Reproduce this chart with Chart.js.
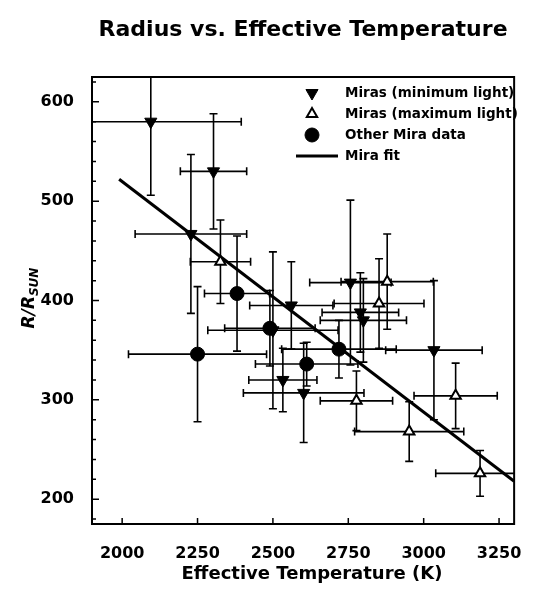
<!DOCTYPE html>
<html>
<head>
<meta charset="utf-8">
<script src="https://cdn.jsdelivr.net/npm/chart.js@4.4.1/dist/chart.umd.min.js"></script>
<style>
  html, body { margin: 0; padding: 0; background: #fff; }
  #wrap { width: 534px; height: 596px; }
</style>
</head>
<body>
<div id="wrap"><canvas id="chart"></canvas></div>
<script>
// Miras at minimum light (filled down triangles)
const minT    = [2095, 2303, 2228, 2561, 2500, 2533, 2602, 2757, 2790, 2800, 3034];
const minR    = [580, 530, 467, 395, 370, 320, 307, 418, 388, 380, 350];
const minTErr = [300, 110, 185, 138, 216, 113, 200, 135, 127, 143, 160];
const minRErr = [74, 58, 80, 44, 79, 32, 50, 83, 40, 42, 70];

// Miras at maximum light (open triangles)
const maxT    = [2326, 2852, 2879, 2777, 2952, 3106, 3187];
const maxR    = [439, 397, 419, 299, 268, 304, 226];
const maxTErr = [100, 149, 153, 120, 181, 138, 147];
const maxRErr = [42, 45, 48, 30, 30, 33, 23];

// other Mira data (filled circles)
const otherT    = [2250, 2381, 2490, 2612, 2719];
const otherR    = [346, 407, 372, 336, 351];
const otherTErr = [229, 108, 150, 170, 190];
const otherRErr = [68, 58, 38, 22, 29];

// linear fit
const fitT = [1990, 3300];
const fitR = [522, 218];

const xTicks = [2000, 2250, 2500, 2750, 3000, 3250];
const yTicks = [200, 300, 400, 500, 600];
const yMinorStep = 20;

const FONT = "'DejaVu Sans', sans-serif";

function points(ts, rs, te, re) {
    return ts.map((t, i) => ({ x: t, y: rs[i], xe: te ? te[i] : 0, ye: re ? re[i] : 0 }));
}

// error bars, frame, inner ticks, titles and legend
const decorations = {
    id: 'decorations',
    beforeDatasetsDraw(chart) {
        const { ctx, chartArea: a, scales: { x, y } } = chart;
        ctx.save();
        ctx.beginPath();
        ctx.rect(a.left, a.top, a.right - a.left, a.bottom - a.top);
        ctx.clip();
        ctx.strokeStyle = '#000';
        ctx.lineWidth = 1.6;
        const cap = 4;
        chart.data.datasets.forEach(ds => {
            if (!ds.errorBars) return;
            ds.data.forEach(p => {
                const px = x.getPixelForValue(p.x);
                const py = y.getPixelForValue(p.y);
                const x0 = x.getPixelForValue(p.x - p.xe);
                const x1 = x.getPixelForValue(p.x + p.xe);
                const y0 = y.getPixelForValue(p.y - p.ye);
                const y1 = y.getPixelForValue(p.y + p.ye);
                ctx.beginPath();
                ctx.moveTo(x0, py); ctx.lineTo(x1, py);
                ctx.moveTo(x0, py - cap); ctx.lineTo(x0, py + cap);
                ctx.moveTo(x1, py - cap); ctx.lineTo(x1, py + cap);
                ctx.moveTo(px, y0); ctx.lineTo(px, y1);
                ctx.moveTo(px - cap, y0); ctx.lineTo(px + cap, y0);
                ctx.moveTo(px - cap, y1); ctx.lineTo(px + cap, y1);
                ctx.stroke();
            });
        });
        ctx.restore();
    },
    afterDraw(chart) {
        const { ctx, chartArea: a, scales: { x, y } } = chart;
        ctx.save();
        ctx.strokeStyle = '#000';
        ctx.fillStyle = '#000';

        // frame
        ctx.lineWidth = 2;
        ctx.strokeRect(a.left, a.top, a.right - a.left, a.bottom - a.top);

        // inward ticks
        ctx.lineWidth = 1.5;
        ctx.beginPath();
        xTicks.forEach(v => {
            const px = x.getPixelForValue(v);
            ctx.moveTo(px, a.bottom); ctx.lineTo(px, a.bottom - 6);
        });
        for (let v = Math.ceil(y.min / yMinorStep) * yMinorStep; v <= y.max; v += yMinorStep) {
            const py = y.getPixelForValue(v);
            const len = yTicks.includes(v) ? 7 : 4;
            ctx.moveTo(a.left, py); ctx.lineTo(a.left + len, py);
        }
        ctx.stroke();

        // title
        ctx.textAlign = 'center';
        ctx.textBaseline = 'middle';
        ctx.font = 'bold 22px ' + FONT;
        ctx.fillText('Radius vs. Effective Temperature', (a.left + a.right) / 2, 30);

        // x axis title
        ctx.font = 'bold 18px ' + FONT;
        ctx.fillText('Effective Temperature (K)', 312, 574);

        // y axis title R/R_SUN
        ctx.save();
        ctx.translate(28, 298);
        ctx.rotate(-Math.PI / 2);
        const mainFont = 'italic bold 17px ' + FONT;
        const subFont = 'italic bold 12px ' + FONT;
        ctx.font = mainFont;
        const w1 = ctx.measureText('R/R').width;
        ctx.font = subFont;
        const w2 = ctx.measureText('SUN').width;
        const start = -(w1 + w2) / 2;
        ctx.textAlign = 'left';
        ctx.textBaseline = 'alphabetic';
        ctx.font = mainFont;
        ctx.fillText('R/R', start, 6);
        ctx.font = subFont;
        ctx.fillText('SUN', start + w1, 10);
        ctx.restore();

        // legend
        const rows = [93, 114, 135, 156];
        const mx = 312, tx = 345;
        ctx.font = 'bold 13.5px ' + FONT;
        ctx.textAlign = 'left';
        ctx.textBaseline = 'middle';
        chart.data.datasets.forEach((ds, i) => {
            const ry = rows[i];
            if (ds.showLine) {
                ctx.lineWidth = ds.borderWidth;
                ctx.strokeStyle = ds.borderColor;
                ctx.beginPath();
                ctx.moveTo(296, ry); ctx.lineTo(338, ry);
                ctx.stroke();
            } else {
                ctx.fillStyle = ds.backgroundColor;
                ctx.strokeStyle = ds.borderColor;
                ctx.lineWidth = ds.borderWidth;
                Chart.helpers.drawPoint(ctx, {
                    pointStyle: ds.pointStyle,
                    rotation: ds.rotation || 0,
                    radius: ds.pointRadius,
                    borderWidth: ds.borderWidth
                }, mx, ry);
            }
            ctx.fillStyle = '#000';
            ctx.fillText(ds.label, tx, ry);
        });
        ctx.restore();
    }
};

new Chart(document.getElementById('chart'), {
    type: 'scatter',
    data: {
        datasets: [
            {
                label: 'Miras (minimum light)',
                data: points(minT, minR, minTErr, minRErr),
                errorBars: true,
                pointStyle: 'triangle',
                rotation: 180,
                pointRadius: 7,
                backgroundColor: '#000',
                borderColor: '#000',
                borderWidth: 1
            },
            {
                label: 'Miras (maximum light)',
                data: points(maxT, maxR, maxTErr, maxRErr),
                errorBars: true,
                pointStyle: 'triangle',
                pointRadius: 6,
                backgroundColor: '#fff',
                borderColor: '#000',
                borderWidth: 2
            },
            {
                label: 'Other Mira data',
                data: points(otherT, otherR, otherTErr, otherRErr),
                errorBars: true,
                pointStyle: 'circle',
                pointRadius: 7,
                backgroundColor: '#000',
                borderColor: '#000',
                borderWidth: 1
            },
            {
                label: 'Mira fit',
                data: points(fitT, fitR),
                showLine: true,
                pointRadius: 0,
                borderColor: '#000',
                borderWidth: 3
            }
        ]
    },
    options: {
        responsive: true,
        maintainAspectRatio: false,
        animation: false,
        layout: { padding: { left: 0, right: 19, top: 77, bottom: 0 } },
        plugins: {
            legend: { display: false },
            tooltip: { enabled: false }
        },
        scales: {
            x: {
                type: 'linear',
                min: 1900,
                max: 3300,
                grid: { display: false },
                border: { display: false },
                afterFit: s => { s.height = 72; },
                afterBuildTicks: s => { s.ticks = xTicks.map(v => ({ value: v })); },
                ticks: {
                    color: '#000',
                    padding: 12,
                    maxRotation: 0,
                    autoSkip: false,
                    callback: v => String(v),
                    font: { family: FONT, size: 16, weight: 'bold' }
                }
            },
            y: {
                type: 'linear',
                min: 175,
                max: 625,
                grid: { display: false },
                border: { display: false },
                afterFit: s => { s.width = 92; },
                afterBuildTicks: s => { s.ticks = yTicks.map(v => ({ value: v })); },
                ticks: {
                    color: '#000',
                    padding: 10,
                    autoSkip: false,
                    callback: v => String(v),
                    font: { family: FONT, size: 16, weight: 'bold' }
                }
            }
        }
    },
    plugins: [decorations]
});
</script>
</body>
</html>
